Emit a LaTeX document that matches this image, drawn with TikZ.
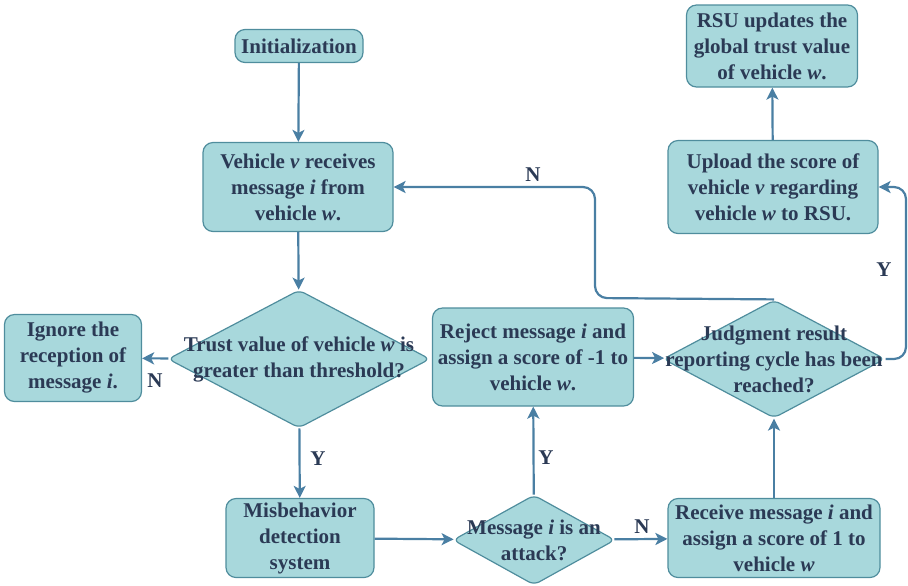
\documentclass[tikz,border=0pt]{standalone}
\usepackage{fontspec}
\setmainfont{Liberation Serif}
\usetikzlibrary{shapes,arrows,arrows.meta,positioning,calc}
\definecolor{boxfill}{HTML}{A8D8DC}
\definecolor{boxline}{HTML}{4F8D9D}
\definecolor{flowline}{HTML}{4A7FA3}
\definecolor{boxtext}{HTML}{2B3A55}
\def\flowfont{\fontsize{10.5}{13}\selectfont\bfseries}
\def\boxline{0.6pt}
\def\loopradius{6pt}

\tikzset{
  stepbox/.style={draw=boxline, fill=boxfill, rounded corners=5pt, line width=\boxline,
    align=center, text=boxtext, font=\flowfont, inner sep=0pt},
  decision/.style={draw=boxline, fill=boxfill, diamond, line width=\boxline,
    inner sep=0pt, rounded corners=3pt},
  decisiontext/.style={align=center, text=boxtext, font=\flowfont, inner sep=0pt},
  flow/.style={draw=flowline, line width=1.1pt, -{Stealth[length=6pt,width=6pt,inset=1.5pt]}},
  flowlabel/.style={text=boxtext, font=\flowfont, inner sep=0pt}
}

\begin{document}
\begin{tikzpicture}[x=0.5pt,y=-0.5pt]
  \useasboundingbox (0,0) rectangle (908,585);

  % left column
  \node[stepbox, minimum width=64pt, minimum height=16.5pt] (init) at (299,46) {Initialization};
  \node[stepbox, minimum width=95pt, minimum height=44.5pt] (receive) at (298,187)
    {Vehicle \textit{v} receives\\message \textit{i} from\\vehicle \textit{w}.};
  \node[decision, minimum width=131pt, minimum height=69pt] (trust) at (299,359) {};
  \node[decisiontext] (trust-text) at (trust.center)
    {Trust value of vehicle \textit{w} is\\greater than threshold?};
  \node[stepbox, minimum width=68.5pt, minimum height=43.5pt] (ignore) at (73,358)
    {Ignore the\\reception of\\message \textit{i}.};
  \node[stepbox, minimum width=74pt, minimum height=39.5pt] (mds) at (300,538)
    {Misbehavior\\detection\\system};

  % middle column
  \node[decision, minimum width=81pt, minimum height=45pt] (attack) at (534,540) {};
  \node[decisiontext] (attack-text) at (attack.center) {Message \textit{i} is an\\attack?};
  \node[stepbox, minimum width=100.5pt, minimum height=49pt] (reject) at (533,357)
    {Reject message \textit{i} and\\assign a score of -1 to\\vehicle \textit{w}.};

  % right column
  \node[stepbox, minimum width=106pt, minimum height=39.5pt] (accept) at (774,538)
    {Receive message \textit{i} and\\assign a score of 1 to\\vehicle \textit{w}};
  \node[decision, minimum width=111pt, minimum height=59pt] (cycle) at (774,359) {};
  \node[decisiontext] (cycle-text) at (cycle.center)
    {Judgment result\\reporting cycle has been\\reached?};
  \node[stepbox, minimum width=105pt, minimum height=46.5pt] (upload) at (773,187)
    {Upload the score of\\vehicle \textit{v} regarding\\vehicle \textit{w} to RSU.};
  \node[stepbox, minimum width=85.5pt, minimum height=41pt] (rsu) at (772,46)
    {RSU updates the\\global trust value\\of vehicle \textit{w}.};

  \coordinate (loopN) at (595,298);
  \coordinate (loopY) at (906,359);

  % connectors
  \draw[flow] (init) -- (receive);
  \draw[flow] (receive) -- (trust);
  \draw[flow] (trust) -- (ignore);
  \draw[flow] (trust) -- (mds);
  \draw[flow] (mds) -- (attack);
  \draw[flow] (attack) -- (accept);
  \draw[flow] (attack) -- (reject);
  \draw[flow] (reject) -- (cycle);
  \draw[flow] (accept) -- (cycle);
  \draw[flow] (upload) -- (rsu);
  \draw[flow, rounded corners=\loopradius] (cycle.north) -- (loopN) |- (receive.east);
  \draw[flow, rounded corners=\loopradius] (cycle.east) -- (loopY) |- (upload.east);

  % branch labels
  \node[flowlabel] (trust-n) at (155,381) {N};
  \node[flowlabel] (trust-y) at (318,459) {Y};
  \node[flowlabel] (attack-n) at (642,527) {N};
  \node[flowlabel] (attack-y) at (546,458) {Y};
  \node[flowlabel] (cycle-n) at (533,175) {N};
  \node[flowlabel] (cycle-y) at (884,270) {Y};
\end{tikzpicture}
\end{document}
